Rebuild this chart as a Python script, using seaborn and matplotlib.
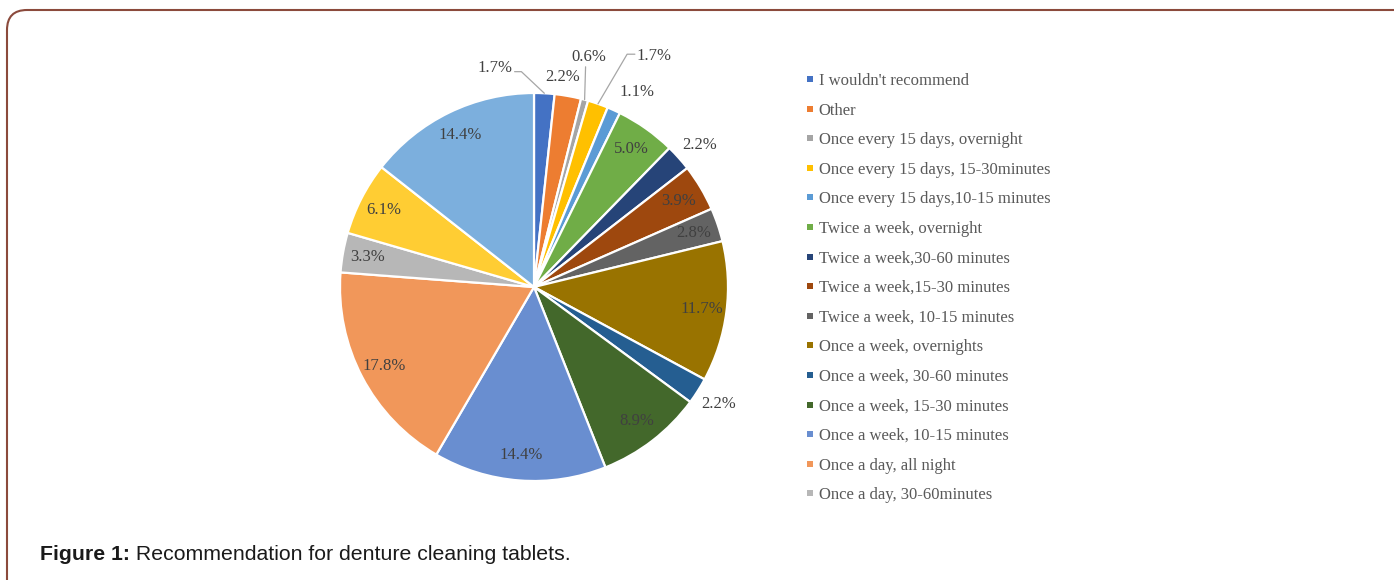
import matplotlib
matplotlib.use("Agg")
import matplotlib.pyplot as plt
import numpy as np
import seaborn as sns
from matplotlib.lines import Line2D
from matplotlib.patches import FancyBboxPatch
from matplotlib.transforms import IdentityTransform

# Survey answers, clockwise from 12 o'clock
categories = [
    "I wouldn't recommend",
    "Other",
    "Once every 15 days, overnight",
    "Once every 15 days, 15-30minutes",
    "Once every 15 days,10-15 minutes",
    "Twice a week, overnight",
    "Twice a week,30-60 minutes",
    "Twice a week,15-30 minutes",
    "Twice a week, 10-15 minutes",
    "Once a week, overnights",
    "Once a week, 30-60 minutes",
    "Once a week, 15-30 minutes",
    "Once a week, 10-15 minutes",
    "Once a day, all night",
    "Once a day, 30-60minutes",
    "Once a day, 15-30 minutes",
    "Once a day, 10-15 minutes",
]
shares = [1.7, 2.2, 0.6, 1.7, 1.1, 5.0, 2.2, 3.9, 2.8, 11.7, 2.2, 8.9, 14.4, 17.8, 3.3, 6.1, 14.4]
legend_count = 15  # the legend box only has room for the first fifteen entries

colors = [
    "#4472C4", "#ED7D31", "#A5A5A5", "#FFC000", "#5B9BD5", "#70AD47",
    "#264478", "#9E480E", "#636363", "#997300", "#255E91", "#43682B",
    "#698ED0", "#F1975A", "#B7B7B7", "#FFCD33", "#7CAFDD",
]

sns.set_style("white")
plt.rcParams["font.family"] = ["Liberation Serif", "DejaVu Serif"]

W, H = 1394, 580
fig = plt.figure(figsize=(W / 100, H / 100), dpi=100)

# pie centred at (534, 287) px with a radius of 194 px
cx, cy, R = 534, 287, 194
ax = fig.add_axes([(cx - R) / W, (H - cy - R) / H, 2 * R / W, 2 * R / H])
wedges, _ = ax.pie(
    shares, colors=colors, startangle=90, counterclock=False,
    wedgeprops=dict(edgecolor="white", linewidth=1.6),
)
ax.set_xlim(-1, 1)
ax.set_ylim(-1, 1)
ax.set_aspect("auto")

label_color = "#404040"
leader_color = "#A6A6A6"
fs = 12

# small slices whose labels sit away from the pie with a leader line
leader_labels = {
    0: dict(pos=(-0.11, 1.13), ha="right", elbow=0.035),
    2: dict(pos=(0.285, 1.185), ha="center", elbow=None),
    3: dict(pos=(0.53, 1.19), ha="left", elbow=-0.04),
}
# outside labels nudged clear of their neighbours
outside_pos = {1: (0.149, 1.082), 4: (0.531, 1.005), 6: (0.856, 0.732)}

for i, (w, v) in enumerate(zip(wedges, shares)):
    theta = np.deg2rad((w.theta1 + w.theta2) / 2)
    ux, uy = np.cos(theta), np.sin(theta)
    txt = f"{v:.1f}%"
    if i in leader_labels:
        spec = leader_labels[i]
        lx, ly = spec["pos"]
        ax.text(lx, ly, txt, ha=spec["ha"], va="center", fontsize=fs,
                color=label_color)
        if spec["elbow"] is None:
            pts = [(ux + 0.005, ly - 0.05), (ux, uy)]
        elif spec["elbow"] > 0:
            pts = [(lx + 0.01, ly - 0.02), (lx + 0.01 + spec["elbow"], ly - 0.02), (ux, uy)]
        else:
            pts = [(lx - 0.01, ly + 0.01), (lx - 0.01 + spec["elbow"], ly + 0.01), (ux, uy)]
        xs, ys = zip(*pts)
        ax.plot(xs, ys, color=leader_color, lw=0.9, clip_on=False)
    elif i in outside_pos:
        px, py = outside_pos[i]
        ax.text(px, py, txt, ha="center", va="center", fontsize=fs, color=label_color)
    elif v <= 2.2:
        r = 1.13
        ax.text(r * ux, r * uy, txt, ha="center", va="center", fontsize=fs,
                color=label_color)
    else:
        r = 0.87
        ax.text(r * ux, r * uy, txt, ha="center", va="center", fontsize=fs,
                color=label_color)

# legend
handles = [
    Line2D([], [], marker="s", ls="", markersize=4.4, color=c, markeredgewidth=0)
    for c in colors[:legend_count]
]
leg = fig.legend(
    handles, categories[:legend_count], loc="upper left",
    bbox_to_anchor=(806 / W, 1 - 73 / H), frameon=False, fontsize=fs,
    handlelength=0.45, handletextpad=0.3, labelspacing=0.815,
    borderpad=0, borderaxespad=0,
)
for t in leg.get_texts():
    t.set_color("#595959")

# rounded frame around the figure panel
frame = FancyBboxPatch(
    (7, -40), W + 40, H - 10 + 40,
    boxstyle="round,pad=0,rounding_size=20",
    transform=IdentityTransform(), fill=False, edgecolor="#8B4A3C", linewidth=1.5,
)
fig.patches.append(frame)

# caption
cap_font = ["Liberation Sans", "DejaVu Sans"]
cap1 = fig.text(40 / W, 1 - 554 / H, "Figure 1:", family=cap_font,
                fontweight="bold", fontsize=15.3, va="center", ha="left", color="#1a1a1a")
ax.annotate(" Recommendation for denture cleaning tablets.", xy=(1, 0.5), xycoords=cap1,
            va="center", ha="left", fontsize=15.3, family=cap_font,
            color="#1a1a1a", annotation_clip=False)

fig.savefig("out.png", dpi=100)
